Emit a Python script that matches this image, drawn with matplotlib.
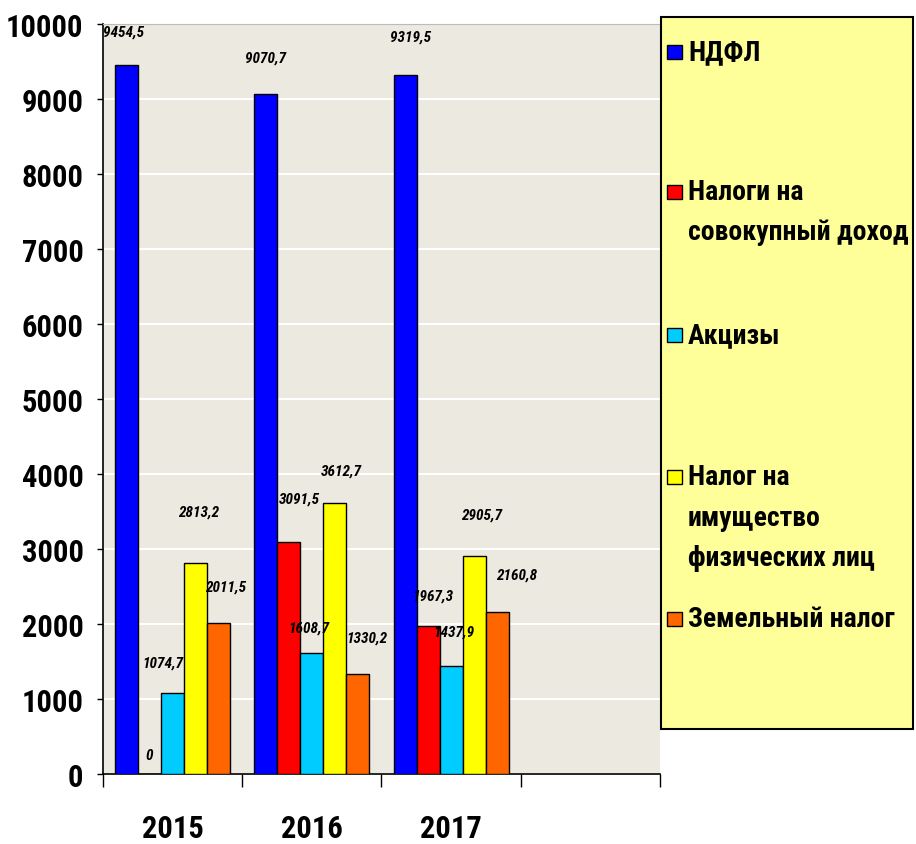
import matplotlib.pyplot as plt
from matplotlib.patches import Rectangle
import numpy as np

# data
years = ['2015', '2016', '2017']
series_names = ['НДФЛ', 'Налоги на\nсовокупный доход', 'Акцизы',
                'Налог на\nимущество\nфизических лиц', 'Земельный налог']
ndfl = [9454.5, 9070.7, 9319.5]
sovok = [0, 3091.5, 1967.3]
akcizy = [1074.7, 1608.7, 1437.9]
imush = [2813.2, 3612.7, 2905.7]
zemel = [2011.5, 1330.2, 2160.8]
values = [ndfl, sovok, akcizy, imush, zemel]
colors = ['#0000FF', '#FF0000', '#00CCFF', '#FFFF00', '#FF6600']

# label nudges in pixels (dx, dy) per series / year, as in the original
label_nudge = [
    [(-3, 33), (0, 36), (5, 38)],
    [(0, 19), (10, 44), (5, 31)],
    [(-10, 31), (-3, 26), (3, 35)],
    [(3, 51), (7, 33), (7, 42)],
    [(7, 37), (9, 37), (20, 37)],
]
# legend first-line y (pixels from top) for each entry, line step 40 px
legend_y = [53, 193, 336, 478, 620]

cond = ['Roboto Condensed', 'DejaVu Sans']

fig = plt.figure(figsize=(9.16, 8.45), dpi=100)
W, H = 916, 845
ax = fig.add_axes([103/W, 1 - 775/H, (660 - 103)/W, 750/H])
ax.set_facecolor('#ECE9E0')

x = np.arange(len(years))
w = 0.165
for i, vals in enumerate(values):
    bars = ax.bar(x + (i - 2) * w, vals, w, color=colors[i],
                  edgecolor='black', linewidth=1, zorder=3)
    for j, b in enumerate(bars):
        dx, dy = label_nudge[i][j]
        txt = f'{vals[j]:.1f}'.replace('.', ',') if vals[j] else '0'
        ax.annotate(txt, (b.get_x() + b.get_width()/2, b.get_height()),
                    xytext=(dx, dy), textcoords='offset pixels',
                    ha='center', va='center', fontsize=11,
                    fontweight='bold', fontstyle='italic', family=cond,
                    zorder=4, annotation_clip=False)

ax.set_xlim(-0.5, 3.5)
ax.set_ylim(0, 10000)
ax.set_yticks(range(0, 10001, 1000))
ax.yaxis.grid(True, color='white', linewidth=1.5, zorder=0)
ax.tick_params(axis='y', length=4, width=1, pad=10)
for lab in ax.get_yticklabels():
    lab.set_family(cond)
    lab.set_fontsize(22)
    lab.set_fontweight('bold')

ax.set_xticks(x)
ax.set_xticklabels(years, family=cond, fontsize=22, fontweight='bold')
ax.tick_params(axis='x', which='major', length=0, pad=28)
ax.set_xticks(np.arange(-0.5, 3.6, 1), minor=True)
ax.tick_params(axis='x', which='minor', length=9, width=1)

ax.spines['left'].set_linewidth(1.2)
ax.spines['bottom'].set_linewidth(1.2)
ax.spines['top'].set_color('#BBBBBB')
ax.spines['right'].set_visible(False)

# legend panel
fig.patches.append(Rectangle((661/W, 1 - 730/H), 252/W, 712/H,
                             transform=fig.transFigure, facecolor='#FFFF99',
                             edgecolor='black', linewidth=1.5, zorder=5))
for i, name in enumerate(series_names):
    y0 = legend_y[i]
    fig.patches.append(Rectangle((667/W, 1 - (y0 + 7)/H), 15/W, 14/H,
                                 transform=fig.transFigure, facecolor=colors[i],
                                 edgecolor='black', linewidth=1, zorder=6))
    for k, line in enumerate(name.split('\n')):
        fig.text(688/W, 1 - (y0 + 40 * k)/H, line, ha='left', va='center',
                 fontsize=20, fontweight='bold', family=cond, zorder=7)

fig.savefig('out.png', dpi=100)
